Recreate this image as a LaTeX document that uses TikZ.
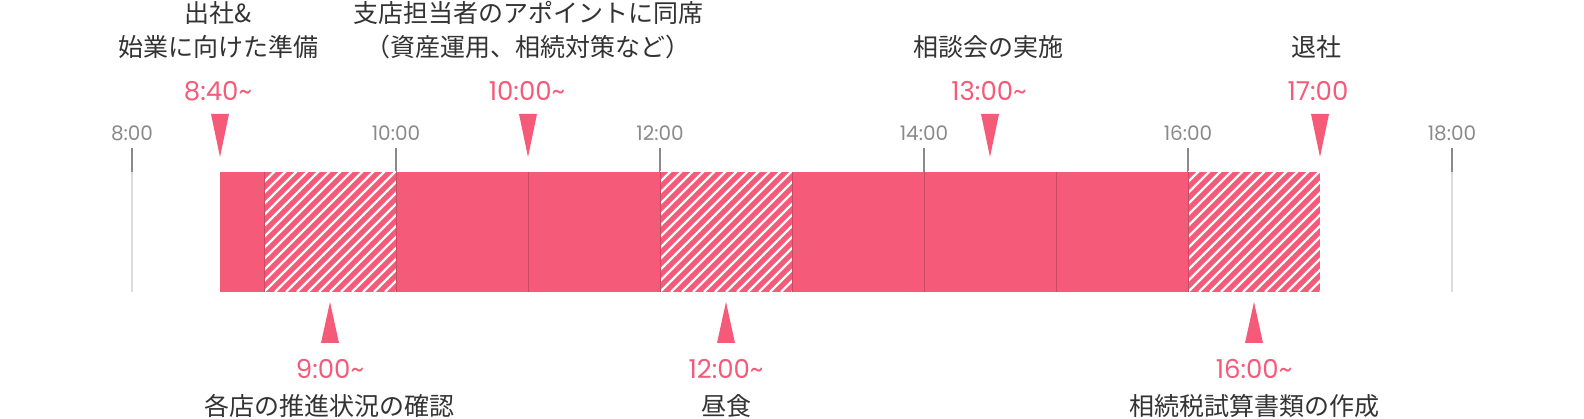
\documentclass[tikz,border=0pt]{standalone}
\usepackage{fontspec}
\setmainfont{Noto Sans CJK JP}
\newfontfamily\timefont{Poppins}
\usetikzlibrary{positioning}
\definecolor{accent}{HTML}{F55A78}
\definecolor{tickgray}{HTML}{8A8A8A}
\definecolor{gridgray}{HTML}{DCDCDC}
\definecolor{ink}{HTML}{333333}

\begin{document}
\begin{tikzpicture}[
    x=1pt, y=-1pt,
    task/.style={font=\fontsize{25}{34}\selectfont, text=ink, align=center, inner sep=0pt},
    clock/.style={font=\timefont\fontsize{26}{28}\selectfont, text=accent, inner sep=0pt},
    hour/.style={font=\timefont\fontsize{20}{22}\selectfont, text=tickgray, inner sep=0pt},
    block/.style={fill=accent},
    divider/.style={draw=accent!82!black, line width=1pt},
    stripe/.style={draw=white, line width=2.4pt},
    marker/.style={fill=accent}
  ]
    \useasboundingbox (0,0) rectangle (1584,419);
    % hour grid
    \foreach \h in {8,10,...,18}{
      \draw[gridgray, line width=1.5pt] ({132*(\h-7)},172) -- ({132*(\h-7)},292);
      \draw[tickgray, line width=1.5pt] ({132*(\h-7)},148) -- ({132*(\h-7)},172);
      \node[hour] (h\h) at ({132*(\h-7)},133) {\h:00};
    }
    % schedule bar
    \fill[block] (220,172) rectangle (1320,292);
    \foreach \s in {9,12,16}{
      \begin{scope}
        \clip ({132*(\s-7)},172) rectangle ({132*(\s-6)},292);
        \foreach \k in {-12,...,13}
          \draw[stripe] ({132*(\s-7)+11*\k},292) -- ++(125,-125);
      \end{scope}
    }
    \foreach \h in {9,...,16}
      \draw[divider] ({132*(\h-7)},172) -- ({132*(\h-7)},292);
    % markers
    \foreach \mx in {220,528,990,1320}
      \fill[marker] (\mx-9,114) -- (\mx+9,114) -- (\mx,157) -- cycle;
    \foreach \mx in {330,726,1254}
      \fill[marker] (\mx-9,343) -- (\mx+9,343) -- (\mx,302) -- cycle;
    % upper labels
    \node[clock] (arrive) at (218,91) {8:40\textasciitilde};
    \node[task] (arrivetxt) at (218,30) {出社\&\\始業に向けた準備};
    \node[clock] (meet) at (527,91) {10:00\textasciitilde};
    \node[task] (meettxt) at (528,30) {支店担当者のアポイントに同席\\（資産運用、相続対策など）};
    \node[clock] (seminar) at (989,91) {13:00\textasciitilde};
    \node[task] (seminartxt) at (988,47) {相談会の実施};
    \node[clock] (leave) at (1318,91) {17:00};
    \node[task] (leavetxt) at (1316,47) {退社};
    % lower labels
    \node[clock] (check) at (330,369) {9:00\textasciitilde};
    \node[task] (checktxt) at (329,406) {各店の推進状況の確認};
    \node[clock] (lunch) at (726,369) {12:00\textasciitilde};
    \node[task] (lunchtxt) at (726,406) {昼食};
    \node[clock] (docs) at (1254,369) {16:00\textasciitilde};
    \node[task] (docstxt) at (1254,406) {相続税試算書類の作成};
  \end{tikzpicture}
\end{document}
